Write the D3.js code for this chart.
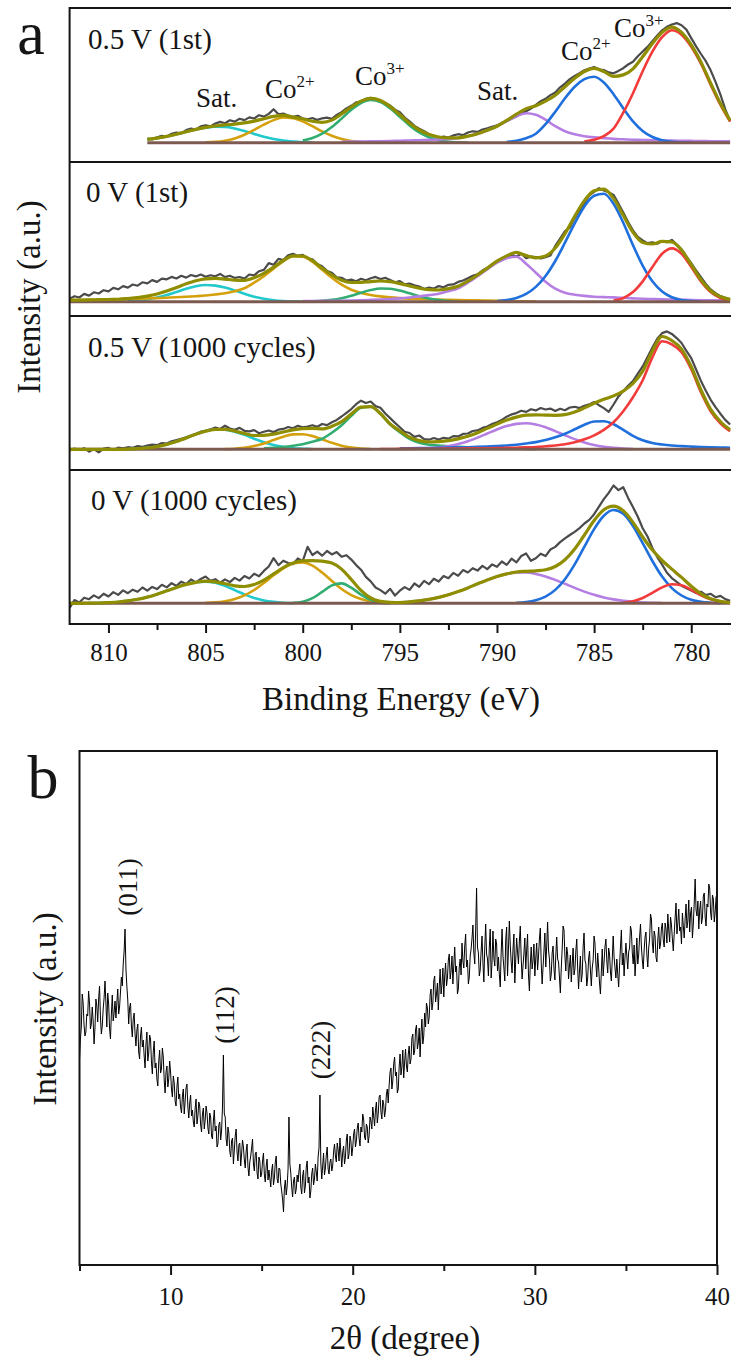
<!DOCTYPE html>
<html>
<head>
<meta charset="utf-8">
<script src="https://cdn.jsdelivr.net/npm/d3@7"></script>
<style>
  body { margin: 0; background: #fff; }
  svg { font-family: "Liberation Serif", "Times New Roman", Times, "DejaVu Serif", serif; }
</style>
</head>
<body>
<svg id="fig" width="731" height="1363"></svg>
<script>
// ---------- panel a : Co 2p XPS, four spectra ----------
// fitted components are sampled every 0.5 eV (from -> lower energies), raw data every 0.25 eV
const panelNames = ['0.5 V (1st)', '0 V (1st)', '0.5 V (1000 cycles)', '0 V (1000 cycles)'];
const panelStart = [808, 812, 812, 812];
const eMajor = [810, 805, 800, 795, 790, 785, 780];
const eMinor = [807.5, 802.5, 797.5, 792.5, 787.5, 782.5];

const p1Cyan = {from: 808, v: [3.3, 4.5, 6.3, 8.5, 11, 13.3, 15, 15.9, 15.8, 14.3, 11.8, 8.8, 6, 3.7, 2.1, 1.1, 0.5, 0.2]};
const p1Gold = {from: 805, v: [0.3, 0.8, 2, 4.3, 8, 12.8, 18, 22.6, 25.2, 24.5, 21.3, 16.5, 11.3, 6.9, 3.7, 1.7, 0.7, 0.3]};
const p1Green = {from: 800, v: [2.1, 4.7, 9.1, 15.7, 24.1, 32.9, 39.7, 42.7, 40.7, 34.4, 25.9, 17.3, 10.2, 5.4, 2.5, 1, 0.4, 0.1]};
const p1Purple = {from: 798, v: [1, 1.1, 1.2, 1.4, 1.5, 1.7, 2, 2.2, 2.5, 2.8, 3.2, 3.8, 4.5, 6.5, 9, 12.5, 16.5, 21.5, 26.5, 29.5, 28, 23, 16.5, 11.5, 8.5, 6.5, 5.3, 4.5, 3.8, 3.4, 3, 2.7, 2.5, 2.3, 2.1, 1.9, 1.8, 1.6, 1.5, 1.4, 1.3]};
const p1Blue = {from: 789.5, v: [0.8, 2, 4.5, 9, 18.5, 31, 44.5, 56, 63.5, 66, 60.2, 48.5, 34.4, 21.4, 11.8, 5.7, 2.5, 1, 0.4, 0.1]};
const p1Red = {from: 785.5, v: [1.2, 3, 6.5, 14, 30, 49.5, 71.5, 91, 105.5, 112.5, 108, 96, 79, 58, 38, 21]};
const p1Raw = [4.0,
  3.2, 5.5, 6.8, 5.9, 8.9, 10.2, 9.4, 12.6, 14.1, 13.2, 16.4, 17.5, 16.3, 19.2, 20.8, 19.5,
  22.4, 21.1, 23.9, 22.6, 25.3, 24.2, 27.5, 26.1, 28.8, 33.5, 28.4, 29.2, 27.1, 25.8, 26.9, 24.2,
  23.5, 24.7, 22.8, 24.4, 25.1, 23.9, 27.8, 30.6, 34.2, 36.9, 40.3, 41.2, 43.8, 44.9, 43.6, 42.1,
  39.4, 37.2, 33.1, 30.5, 25.2, 21.4, 16.8, 13.9, 11.5, 8.4, 6.9, 4.8, 6.2, 5.1, 7.3, 8.5,
  7.6, 10.2, 11.4, 10.8, 13.1, 14.4, 15.9, 17.3, 19.8, 21.6, 23.9, 26.2, 29.1, 31.4, 34.2, 37.8,
  41.5, 43.9, 47.6, 50.2, 55.4, 59.1, 63.6, 66.8, 69.5, 72.4, 74.1, 75.6, 73.2, 72.6, 70.3, 69.4,
  71.8, 74.5, 78.2, 80.9, 86.4, 91.2, 95.8, 101.5, 107.3, 112.4, 115.9, 118.2, 119.6, 117.4, 113.1, 104.6,
  96.3, 88.7, 81.5, 72.4, 60.8, 48.2, 33.5, 21.6];

const p2Cyan = {from: 809, v: [0.5, 1.1, 2.3, 4.1, 6.7, 9.8, 13, 15.5, 16.7, 16.1, 14.1, 11.1, 7.9, 5, 2.9, 1.5, 0.7, 0.3, 0.1]};
const p2Gold = {from: 812, v: [1.5, 1.65, 1.8, 2, 2.2, 2.45, 2.7, 3, 3.3, 3.6, 4, 4.4, 4.9, 5.5, 6.2, 7.2, 8.5, 10.5, 13.5, 19, 25.5, 33, 40.5, 45.5, 45, 40, 32, 24, 17, 12, 8.8, 6.7, 5.3, 4.3, 3.6, 3.1, 2.7, 2.4, 2.1, 1.9, 1.7, 1.5, 1.3, 1.1, 0.9, 0.7, 0.5, 0.3, 0.1]};
const p2Green = {from: 799.5, v: [0.3, 0.8, 1.8, 3.5, 6, 9, 11.6, 13.2, 13, 11.2, 8.4, 5.5, 3.1, 1.6, 0.7, 0.3]};
const p2Purple = {from: 800, v: [0.6, 0.7, 0.8, 0.9, 1, 1.2, 1.5, 1.8, 2.2, 2.7, 3.3, 4.2, 5.3, 6.6, 8, 10.5, 13.5, 19, 25.5, 32.5, 39, 43.5, 45, 38, 29, 20, 13, 9, 7, 5.8, 5, 4.6, 4.3, 3.8, 3.3, 2.9, 2.6, 2.3, 2.1, 1.9, 1.7, 1.5, 1.4, 1.3, 1.2]};
const p2Blue = {from: 790, v: [0.6, 1.6, 3.8, 7.8, 14.8, 25.7, 40.7, 59, 78.4, 95.3, 106, 107.9, 97.9, 79, 56.6, 36.1, 20.4, 10.2, 4.5, 1.8, 0.6, 0.2]};
const p2Red = {from: 784, v: [1.1, 3.6, 9.6, 20.3, 34.7, 47.9, 53.3, 47.9, 34.7, 20.3, 9.6, 3.6, 1.1]};
const p2Raw = [3.0,
  5.5, 4.2, 7.8, 6.1, 9.4, 8.2, 11.5, 10.3, 13.8, 12.4, 15.6, 14.1, 17.2, 16.0, 19.4, 18.3,
  21.6, 19.8, 23.1, 22.4, 24.8, 23.2, 25.9, 24.1, 26.7, 25.3, 27.2, 24.9, 26.5, 25.4, 27.8, 24.6,
  25.9, 23.8, 24.7, 23.1, 27.2, 26.4, 30.5, 31.8, 38.6, 36.9, 42.8, 41.6, 46.5, 47.9, 45.8, 46.9,
  43.1, 42.4, 37.6, 35.5, 30.8, 28.9, 24.4, 23.9, 21.2, 22.1, 20.4, 22.9, 21.5, 23.4, 24.8, 22.6,
  23.9, 21.8, 19.4, 20.6, 17.3, 18.2, 16.4, 15.1, 12.6, 14.2, 13.1, 15.6, 14.5, 16.9, 17.3, 19.8,
  21.2, 23.5, 25.9, 27.4, 31.2, 33.8, 36.5, 39.7, 42.6, 44.1, 46.8, 45.2, 47.9, 43.5, 45.1, 44.6,
  43.2, 44.5, 46.2, 55.8, 63.2, 70.5, 74.1, 83.6, 91.2, 98.7, 106.4, 109.8, 113.5, 111.2, 109.6, 106.8,
  98.3, 89.1, 79.6, 71.4, 64.8, 61.2, 58.5, 59.3, 57.9, 60.6, 59.4, 61.8, 57.2, 52.4, 45.1, 38.6,
  31.2, 24.5, 17.8, 12.3, 8.5, 5.6, 3.8, 2.1];

const p3Cyan = {from: 809, v: [0.2, 0.7, 1.4, 2.7, 4.9, 7.8, 11.3, 15.1, 18.2, 19.8, 19.7, 17.6, 14.4, 10.6, 7.1, 4.4, 2.4, 1.1, 0.6, 0.2]};
const p3Gold = {from: 804, v: [0.2, 0.6, 1.4, 3.2, 5.9, 9.2, 12.6, 14.9, 15, 13.2, 10, 6.5, 3.6, 1.8, 0.7, 0.2]};
const p3Green = {from: 802, v: [1, 1.5, 2.3, 3.5, 5, 7.5, 10.5, 16.5, 24, 33.5, 41.5, 42.5, 35.5, 25, 17, 10.5, 6.5, 4.5, 3.8, 3, 2.4, 1.9, 1.5, 1.2, 1, 0.8, 0.6, 0.4, 0.2]};
const p3Purple = {from: 794, v: [0.5, 0.9, 1.8, 3.2, 5.3, 8.1, 11.7, 15.8, 19.8, 23.2, 25.4, 26, 24.7, 22, 18.2, 14.1, 10.2, 6.9, 4.3, 2.5, 1.4, 0.7, 0.3]};
const p3Blue = {from: 795, v: [1, 1.1, 1.2, 1.35, 1.5, 1.7, 1.9, 2.1, 2.4, 2.8, 3.2, 3.8, 4.6, 5.8, 7.2, 9.2, 12, 15.5, 20, 24.5, 27.8, 28, 25, 19.5, 13.5, 9, 6.3, 4.8, 3.8, 3.2, 2.7, 2.3, 2, 1.8, 1.6]};
const p3Red = {from: 796, v: [0.3, 0.35, 0.4, 0.45, 0.5, 0.55, 0.6, 0.7, 0.8, 0.9, 1, 1.1, 1.2, 1.4, 1.6, 1.9, 2.3, 3, 3.8, 5, 7, 10, 14, 19.5, 27, 38, 52, 69, 92, 108, 105, 97, 80, 57, 38, 26, 18]};
const p3Raw = [-1.2,
  0.8, -0.5, 1.1, -2.4, 0.3, -3.1, 0.6, 1.4, -0.8, 1.6, 0.9, 2.1, 1.5, 3.2, 2.4, 3.8,
  4.6, 4.1, 6.3, 5.8, 8.1, 9.2, 10.6, 12.1, 13.8, 15.2, 17.6, 18.4, 19.9, 21.8, 20.3, 23.6,
  20.8, 19.6, 21.4, 18.5, 17.9, 19.2, 16.1, 17.5, 18.8, 17.2, 19.6, 20.4, 22.3, 21.1, 23.5, 21.9,
  22.8, 24.1, 22.6, 25.3, 24.2, 27.1, 29.4, 32.8, 36.5, 40.2, 45.1, 48.6, 46.3, 47.8, 43.2, 41.5,
  35.8, 31.2, 26.4, 22.1, 17.6, 16.3, 12.4, 13.8, 10.2, 9.6, 11.3, 9.8, 11.5, 10.6, 13.2, 12.9,
  15.4, 15.8, 18.3, 18.9, 21.4, 22.8, 25.3, 27.1, 29.4, 32.6, 34.9, 36.2, 38.5, 37.4, 40.1, 38.9,
  41.3, 39.8, 40.7, 38.4, 40.6, 39.1, 41.8, 42.5, 41.2, 43.6, 44.9, 47.3, 44.1, 41.2, 37.5, 44.8,
  52.6, 58.4, 63.5, 68.2, 75.6, 82.9, 92.4, 101.8, 110.5, 116.2, 117.9, 115.4, 111.2, 106.3, 98.5, 91.1,
  79.8, 68.4, 58.6, 49.5, 42.1, 35.6, 29.4, 24.8];

const p4Cyan = {from: 811, v: [0.15, 0.3, 0.7, 1.3, 2.4, 4, 6.2, 9.1, 12.5, 15.9, 18.9, 21, 21.7, 20.5, 17.4, 13.2, 8.9, 5.4, 2.9, 1.4, 0.6, 0.2]};
const p4Gold = {from: 805, v: [0.4, 0.9, 2.1, 4.3, 7.9, 13.3, 20.3, 28, 35, 39.7, 40.9, 37.6, 30.7, 22.3, 14.3, 8.2, 4.2, 1.9, 0.8, 0.3]};
const p4Green = {from: 800.5, v: [0.4, 1.6, 5.1, 11.4, 17.9, 19.9, 15.6, 8.7, 3.4, 0.9, 0.2]};
const p4Purple = {from: 796, v: [0.2, 0.5, 0.8, 1.5, 2.4, 3.9, 5.9, 8.5, 11.7, 15.4, 19.5, 23.4, 26.8, 29.4, 30.8, 30.8, 29.4, 26.8, 23.4, 19.5, 15.4, 11.7, 8.5, 5.9, 3.9, 2.4, 1.5, 0.8, 0.5, 0.2]};
const p4Blue = {from: 789, v: [0.5, 1.2, 3.1, 6.7, 13.4, 24.1, 38.9, 56.6, 74.2, 87.6, 93.3, 89.5, 77.3, 60.2, 42.3, 26.7, 15.2, 7.8, 3.6, 1.5, 0.6, 0.2]};
const p4Red = {from: 783.5, v: [0.6, 2.1, 5.3, 10.4, 15.9, 19, 18.1, 13.5, 8, 4, 1.8, 0.7]};
const p4Raw = [-4.5,
  3.2, 0.8, 5.6, 4.1, 7.9, 5.2, 9.6, 6.8, 11.2, 8.4, 12.9, 10.1, 13.6, 11.5, 15.8, 12.7,
  16.4, 14.2, 18.5, 15.9, 20.1, 17.4, 21.6, 19.2, 23.8, 20.9, 24.4, 26.8, 22.5, 24.1, 20.6, 23.9,
  21.2, 25.4, 22.7, 27.3, 24.8, 29.6, 27.1, 32.4, 36.8, 45.2, 38.1, 42.6, 40.3, 39.1, 44.8, 42.2,
  56.4, 48.3, 51.7, 47.6, 52.3, 48.9, 51.2, 46.5, 48.1, 43.7, 38.2, 33.6, 26.4, 21.9, 15.8, 13.2,
  9.6, 14.5, 7.8, 12.6, 16.2, 13.4, 19.8, 16.5, 22.4, 19.1, 24.6, 21.8, 27.3, 25.1, 30.4, 27.6,
  33.2, 30.8, 35.1, 32.7, 37.4, 34.2, 38.9, 36.5, 41.8, 38.4, 44.6, 40.9, 47.3, 49.8, 42.5, 45.1,
  49.6, 47.2, 53.8, 56.4, 61.2, 64.9, 68.3, 71.5, 75.2, 79.8, 83.4, 89.1, 96.7, 104.2, 110.5, 117.8,
  113.2, 116.1, 105.4, 96.2, 86.5, 75.1, 66.8, 55.4, 46.2, 38.7, 30.5, 25.2, 21.4, 17.6, 15.1, 12.8,
  10.4, 11.6, 8.2, 9.5, 6.1, 7.4, 4.2, 2.5];

// ---------- panel b : XRD, 5-40 deg every 0.05 deg ----------
const tMajor = [10, 20, 30, 40];
const tMinor = [5, 15, 25, 35];
const xrdFrom = 5;
const xrdStep = 0.05;
const xrdI = [
  205, 226, 238, 271, 262, 240, 229, 233, 251, 249, 274, 262, 236, 241, 258, 244, 221, 237, 266, 259,
  243, 266, 279, 248, 231, 239, 256, 267, 284, 262, 238, 272, 261, 237, 226, 251, 270, 244, 252, 264,
  247, 262, 276, 251, 258, 273, 288, 279, 301, 314, 336, 296, 279, 265, 241, 257, 262, 239, 228, 246,
  252, 231, 219, 235, 241, 213, 206, 229, 238, 218, 225, 209, 197, 221, 233, 204, 212, 230, 226, 203,
  191, 213, 224, 197, 202, 186, 179, 203, 215, 192, 196, 217, 208, 185, 172, 193, 199, 178, 186, 204,
  193, 176, 168, 189, 182, 164, 159, 178, 188, 166, 171, 158, 152, 169, 176, 151, 164, 177, 181, 158,
  147, 162, 170, 149, 155, 143, 138, 157, 166, 141, 149, 163, 159, 140, 133, 151, 157, 136, 145, 159,
  152, 137, 131, 152, 148, 129, 126, 144, 155, 134, 139, 118, 121, 140, 143, 125, 134, 158, 210, 151,
  148, 126, 119, 138, 132, 114, 108, 124, 127, 101, 115, 129, 136, 113, 104, 120, 122, 99, 111, 125,
  118, 105, 97, 114, 121, 98, 89, 103, 109, 117, 126, 101, 94, 111, 113, 92, 86, 108, 104, 88,
  91, 104, 112, 90, 83, 99, 106, 85, 95, 87, 78, 94, 101, 80, 87, 103, 109, 86, 82, 97,
  96, 81, 74, 66, 53, 77, 85, 70, 79, 96, 148, 101, 92, 78, 68, 84, 88, 71, 76, 90,
  83, 94, 101, 78, 71, 89, 95, 72, 79, 98, 104, 82, 88, 67, 74, 91, 97, 80, 86, 101,
  93, 84, 108, 117, 170, 102, 86, 99, 112, 90, 97, 110, 118, 96, 91, 103, 106, 94, 99, 113,
  121, 109, 103, 122, 115, 104, 127, 112, 98, 113, 119, 101, 108, 125, 131, 106, 111, 129, 124, 109,
  117, 131, 136, 118, 124, 137, 142, 127, 119, 138, 133, 151, 146, 128, 125, 141, 138, 122, 129, 148,
  144, 136, 158, 149, 139, 155, 163, 142, 151, 168, 170, 153, 146, 165, 161, 148, 155, 171, 176, 162,
  180, 193, 197, 176, 184, 201, 208, 189, 193, 172, 176, 198, 211, 190, 198, 215, 187, 203, 216, 199,
  193, 211, 219, 201, 206, 227, 231, 210, 214, 235, 240, 216, 222, 237, 208, 232, 246, 221, 229, 252,
  238, 262, 257, 241, 248, 270, 276, 255, 262, 284, 289, 263, 271, 282, 255, 278, 296, 271, 280, 297,
  268, 289, 302, 279, 287, 305, 311, 286, 294, 309, 281, 300, 318, 293, 299, 271, 276, 298, 306, 290,
  322, 304, 297, 319, 331, 298, 305, 281, 288, 309, 316, 327, 340, 312, 301, 335, 377, 318, 312, 289,
  295, 314, 329, 302, 283, 318, 341, 311, 306, 289, 318, 336, 287, 303, 334, 307, 299, 326, 321, 294,
  308, 291, 278, 312, 336, 309, 297, 284, 325, 338, 289, 316, 344, 320, 303, 292, 316, 331, 282, 305,
  327, 313, 301, 324, 339, 307, 286, 299, 312, 327, 296, 315, 331, 290, 274, 301, 318, 296, 305, 321,
  289, 307, 322, 295, 309, 326, 337, 302, 281, 298, 314, 332, 298, 319, 343, 315, 306, 284, 291, 312,
  319, 296, 285, 310, 328, 306, 303, 288, 272, 297, 316, 339, 335, 309, 294, 318, 311, 286, 299, 310,
  283, 301, 317, 290, 296, 314, 326, 297, 276, 294, 309, 283, 291, 318, 332, 305, 301, 279, 287, 306,
  314, 295, 279, 297, 305, 329, 322, 301, 288, 312, 298, 282, 271, 293, 316, 289, 303, 318, 326, 304,
  292, 317, 311, 293, 284, 306, 329, 308, 297, 287, 306, 291, 278, 299, 318, 335, 300, 312, 289, 308,
  322, 309, 296, 313, 317, 339, 334, 312, 301, 320, 289, 306, 327, 301, 310, 328, 341, 318, 305, 296,
  315, 328, 333, 310, 298, 317, 326, 351, 346, 322, 312, 334, 329, 308, 303, 325, 338, 316, 321, 337,
  342, 325, 318, 342, 336, 322, 351, 335, 323, 348, 340, 326, 314, 331, 347, 362, 331, 342, 356, 334,
  338, 321, 352, 339, 327, 346, 361, 337, 344, 365, 333, 352, 358, 327, 341, 362, 386, 355, 349, 364,
  336, 355, 364, 341, 347, 369, 372, 348, 339, 361, 358, 381, 377, 352, 345, 370, 366, 343, 353, 368,
  371];
const xrdPeaks = ['(011)', '(112)', '(222)'];

// ---------- drawing ----------
const svg = d3.select('#fig');
const ink = '#151515';
const serif = '"Liberation Serif", "Times New Roman", Times, "DejaVu Serif", serif';
const compColors = ['#21c8cc', '#d4a10c', '#31ad72', '#b57ee2', '#1f6fdc', '#f23b3b'];

// every label goes through here so the font is set inline
const label = (sel, size) => sel.style('font-family', serif).style('font-size', size + 'px').attr('fill', ink);

const panelComps = [
  [p1Cyan, p1Gold, p1Green, p1Purple, p1Blue, p1Red],
  [p2Cyan, p2Gold, p2Green, p2Purple, p2Blue, p2Red],
  [p3Cyan, p3Gold, p3Green, p3Purple, p3Blue, p3Red],
  [p4Cyan, p4Gold, p4Green, p4Purple, p4Blue, p4Red]
];
const panelRaw = [p1Raw, p2Raw, p3Raw, p4Raw];

const A = {left: 69.6, right: 733, top: 8, h: 154};
const baseLift = [19.3, 14.3, 20.7, 20.7];
const x = d3.scaleLinear().domain([812, 778]).range([69.6, 730.1]);

const valAt = (c, e) => {
  const i = Math.round((c.from - e) / 0.5);
  return i >= 0 && i < c.v.length ? c.v[i] : 0;
};

panelComps.forEach((comps, p) => {
  const top = A.top + p * A.h;
  const bottom = top + A.h;
  const y = d3.scaleLinear().domain([0, 100]).range([bottom - baseLift[p], bottom - baseLift[p] - 100]);
  const line = d3.line().x(d => x(d[0])).y(d => y(d[1]));
  const smooth = d3.line().x(d => x(d[0])).y(d => y(d[1])).curve(d3.curveMonotoneX);

  svg.append('clipPath').attr('id', `clip${p}`)
    .append('rect').attr('x', A.left).attr('y', top + 1).attr('width', A.right - A.left).attr('height', A.h - 2);
  const g = svg.append('g').attr('clip-path', `url(#clip${p})`);

  // raw spectrum
  const raw = panelRaw[p].map((v, i) => [panelStart[p] - i * 0.25, v]);
  g.append('path').datum(raw).attr('d', line)
    .attr('fill', 'none').attr('stroke', '#4b4b4b').attr('stroke-width', 2.2).attr('stroke-linejoin', 'round');

  // fitted components
  comps.forEach((c, k) => {
    const pts = c.v.map((v, i) => [c.from - i * 0.5, v]);
    g.append('path').datum(pts).attr('d', smooth)
      .attr('fill', 'none').attr('stroke', compColors[k]).attr('stroke-width', 2.6);
  });

  // background line
  g.append('path').datum([[panelStart[p], 0], [778, 0]]).attr('d', line)
    .attr('fill', 'none').attr('stroke', '#7d5a50').attr('stroke-width', 3);

  // envelope = sum of components
  const grid = d3.range(0, (panelStart[p] - 778) / 0.5 + 1).map(i => panelStart[p] - i * 0.5);
  const env = grid.map(e => [e, d3.sum(comps, c => valAt(c, e))]);
  g.append('path').datum(env).attr('d', smooth)
    .attr('fill', 'none').attr('stroke', '#8f8d00').attr('stroke-width', 3.2);
});

// frame + dividers
svg.append('rect').attr('x', A.left).attr('y', A.top).attr('width', A.right - A.left).attr('height', A.h * 4)
  .attr('fill', 'none').attr('stroke', ink).attr('stroke-width', 2);
[1, 2, 3].forEach(i => {
  svg.append('line').attr('x1', A.left).attr('x2', A.right)
    .attr('y1', A.top + i * A.h).attr('y2', A.top + i * A.h)
    .attr('stroke', ink).attr('stroke-width', 2);
});

const labelPos = [[88, 49], [86, 202], [88, 357], [91, 510]];
panelNames.forEach((t, i) => {
  label(svg.append('text').attr('x', labelPos[i][0]).attr('y', labelPos[i][1]).text(t), 29);
});

// peak labels in the top spectrum
const peakNotes = [
  {x: 196, y: 107, t: 'Sat.', s: ''},
  {x: 265, y: 98, t: 'Co', s: '2+'},
  {x: 355, y: 85, t: 'Co', s: '3+'},
  {x: 477, y: 100, t: 'Sat.', s: ''},
  {x: 561, y: 60, t: 'Co', s: '2+'},
  {x: 614, y: 37, t: 'Co', s: '3+'}
];
peakNotes.forEach(n => {
  const t = label(svg.append('text').attr('x', n.x).attr('y', n.y).text(n.t), 27);
  if (n.s) t.append('tspan').attr('dy', -11).style('font-size', '17px').text(n.s);
});

// bottom axis of panel a
const axA = svg.append('g').attr('transform', `translate(0,${A.top + 4 * A.h})`);
axA.call(d3.axisBottom(x).tickValues(eMajor).tickSize(9).tickPadding(10).tickFormat(d3.format('d')));
axA.append('g').call(d3.axisBottom(x).tickValues(eMinor).tickSize(6).tickFormat(''));
axA.selectAll('.domain').remove();
axA.selectAll('line').attr('stroke', ink).attr('stroke-width', 2);
label(axA.selectAll('text'), 25);

label(svg.append('text').attr('x', 401).attr('y', 710).attr('text-anchor', 'middle').text('Binding Energy (eV)'), 33);
label(svg.append('text').attr('transform', 'translate(40,297) rotate(-90)').attr('text-anchor', 'middle').text('Intensity (a.u.)'), 33);
label(svg.append('text').attr('x', 31).attr('y', 54).attr('text-anchor', 'middle').text('a'), 62);

// ---------- panel b ----------
const B = {left: 79.5, right: 717, top: 751, bottom: 1265};
const x2 = d3.scaleLinear().domain([5, 40]).range([B.left, B.right]);
const y2 = d3.scaleLinear().domain([0, 514]).range([B.bottom, B.top]);

svg.append('clipPath').attr('id', 'clipB')
  .append('rect').attr('x', B.left).attr('y', B.top).attr('width', B.right - B.left).attr('height', B.bottom - B.top);
svg.append('g').attr('clip-path', 'url(#clipB)')
  .append('path').datum(xrdI.map((v, i) => [xrdFrom + i * xrdStep, v]))
  .attr('d', d3.line().x(d => x2(d[0])).y(d => y2(d[1])))
  .attr('fill', 'none').attr('stroke', '#000').attr('stroke-width', 1);

svg.append('rect').attr('x', B.left).attr('y', B.top).attr('width', B.right - B.left).attr('height', B.bottom - B.top)
  .attr('fill', 'none').attr('stroke', ink).attr('stroke-width', 2);

const axB = svg.append('g').attr('transform', `translate(0,${B.bottom})`);
axB.call(d3.axisBottom(x2).tickValues(tMajor).tickSize(10).tickPadding(12).tickFormat(d3.format('d')));
axB.append('g').call(d3.axisBottom(x2).tickValues(tMinor).tickSize(6).tickFormat(''));
axB.selectAll('.domain').remove();
axB.selectAll('line').attr('stroke', ink).attr('stroke-width', 2);
label(axB.selectAll('text'), 25);

const peakAt = [[128, 887], [225, 1015], [321, 1050]];
xrdPeaks.forEach((t, i) => {
  label(svg.append('text').attr('transform', `translate(${peakAt[i][0]},${peakAt[i][1]}) rotate(-90)`)
    .attr('text-anchor', 'middle').attr('dominant-baseline', 'central').text(t), 27);
});

label(svg.append('text').attr('x', 405).attr('y', 1349).attr('text-anchor', 'middle').text('2θ (degree)'), 33);
label(svg.append('text').attr('transform', 'translate(56,1009) rotate(-90)').attr('text-anchor', 'middle').text('Intensity (a.u.)'), 33);
label(svg.append('text').attr('x', 43).attr('y', 798).attr('text-anchor', 'middle').text('b'), 62);
</script>
</body>
</html>
